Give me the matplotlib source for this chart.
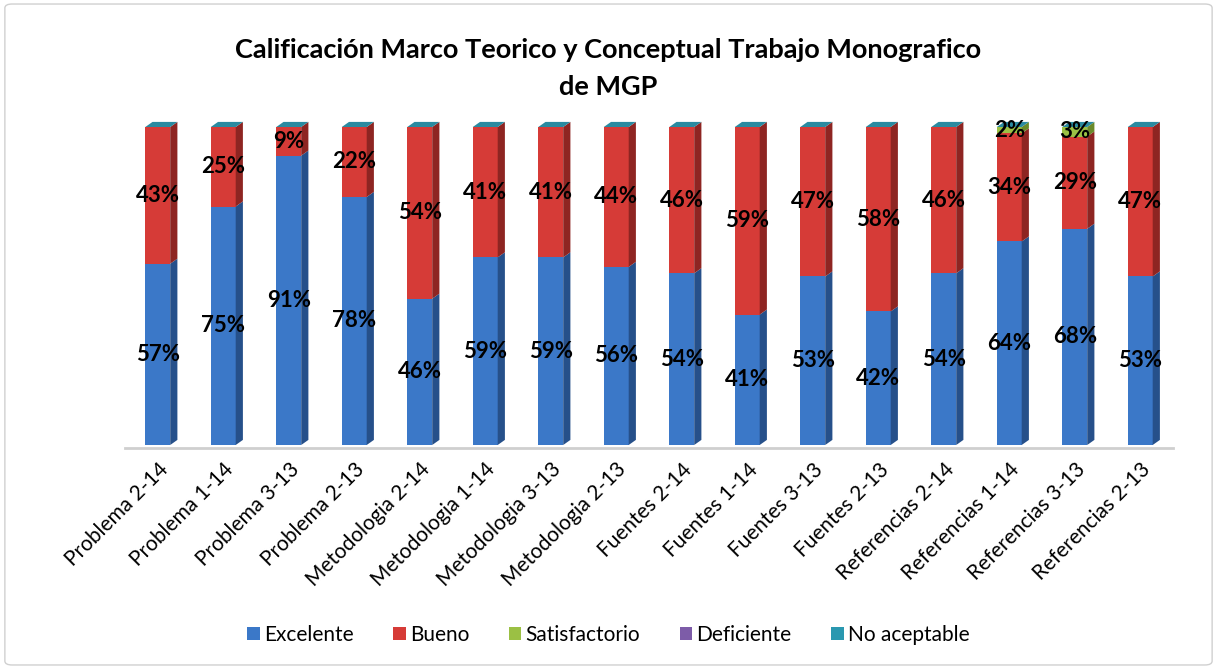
import numpy as np
import matplotlib.pyplot as plt
from matplotlib.patches import Polygon, FancyBboxPatch

categorias = ['Problema 2-14', 'Problema 1-14', 'Problema 3-13', 'Problema 2-13',
              'Metodologia 2-14', 'Metodologia 1-14', 'Metodologia 3-13', 'Metodologia 2-13',
              'Fuentes 2-14', 'Fuentes 1-14', 'Fuentes 3-13', 'Fuentes 2-13',
              'Referencias 2-14', 'Referencias 1-14', 'Referencias 3-13', 'Referencias 2-13']
series = ['Excelente', 'Bueno', 'Satisfactorio', 'Deficiente', 'No aceptable']
excelente = [57, 75, 91, 78, 46, 59, 59, 56, 54, 41, 53, 42, 54, 64, 68, 53]
bueno = [43, 25, 9, 22, 54, 41, 41, 44, 46, 59, 47, 58, 46, 34, 29, 47]
satisfactorio = [0, 0, 0, 0, 0, 0, 0, 0, 0, 0, 0, 0, 0, 2, 3, 0]
deficiente = [0] * 16
no_aceptable = [0] * 16

colores = ['#3b78c8', '#d63b37', '#9bc044', '#7d5ca8', '#2a98b0']
laterales = ['#26508a', '#8e2522', '#6a8a2a', '#553d75', '#1d6a7c']

plt.rcParams['font.family'] = ['Lato', 'DejaVu Sans']

fig = plt.figure(figsize=(12.17, 6.69), dpi=100)
fig.patches.append(FancyBboxPatch((0.004, 0.006), 0.992, 0.988, boxstyle='round,pad=0,rounding_size=0.006',
                                  transform=fig.transFigure, fill=False, edgecolor='#d0d0d0', lw=1))
ax = fig.add_axes([125 / 1217, 1 - 445 / 669, (1173 - 125) / 1217, 318 / 669])

x = np.arange(len(categorias))
w = 0.38
dx, dy = 0.11, 1.6
datos = [excelente, bueno, satisfactorio, deficiente, no_aceptable]
base = np.zeros(len(categorias))
for s, vals in enumerate(datos):
    vals = np.array(vals, dtype=float)
    ax.bar(x, vals, w, bottom=base, color=colores[s], edgecolor='none', label=series[s], zorder=2)
    for i in range(len(x)):
        if vals[i] <= 0:
            continue
        xr = x[i] + w / 2
        y0, y1 = base[i], base[i] + vals[i]
        ax.add_patch(Polygon([[xr, y0], [xr + dx, y0 + dy], [xr + dx, y1 + dy], [xr, y1]],
                             closed=True, color=laterales[s], lw=0, zorder=2, clip_on=False))
        pct = int(vals[i])
        ax.text(x[i], (y0 + y1) / 2, f'{pct}%', ha='center', va='center',
                fontsize=16, fontweight='bold', color='black', zorder=4)
    base += vals

# tapa superior
for i in range(len(x)):
    top = base[i]
    xl, xr = x[i] - w / 2, x[i] + w / 2
    ax.add_patch(Polygon([[xl, top], [xr, top], [xr + dx, top + dy], [xl + dx, top + dy]],
                         closed=True, color='#2a8aa0', lw=0, zorder=3, clip_on=False))

ax.set_xlim(-0.5, len(x) - 0.5)
ax.set_ylim(0, 100)
ax.set_yticks([])
for sp in ['left', 'right', 'top']:
    ax.spines[sp].set_visible(False)
ax.spines['bottom'].set_color('#cfcfcf')
ax.spines['bottom'].set_linewidth(2)
ax.spines['bottom'].set_position(('data', -1))
ax.set_xticks(x)
ax.set_xticklabels(categorias, rotation=45, ha='right', rotation_mode='anchor', fontsize=15)
ax.tick_params(axis='x', length=0, pad=8)

fig.text(0.5, 1 - 50 / 669, 'Calificación Marco Teorico y Conceptual Trabajo Monografico',
         ha='center', va='center', fontsize=19.5, fontweight='bold')
fig.text(0.5, 1 - 87 / 669, 'de MGP', ha='center', va='center', fontsize=19.5, fontweight='bold')

leg = fig.legend(*ax.get_legend_handles_labels(), loc='center', bbox_to_anchor=(0.5, 1 - 635 / 669),
                 ncol=5, frameon=False, fontsize=15, handlelength=0.6, handleheight=0.6,
                 handletextpad=0.2, columnspacing=1.9)

fig.savefig('out.png', dpi=100)
